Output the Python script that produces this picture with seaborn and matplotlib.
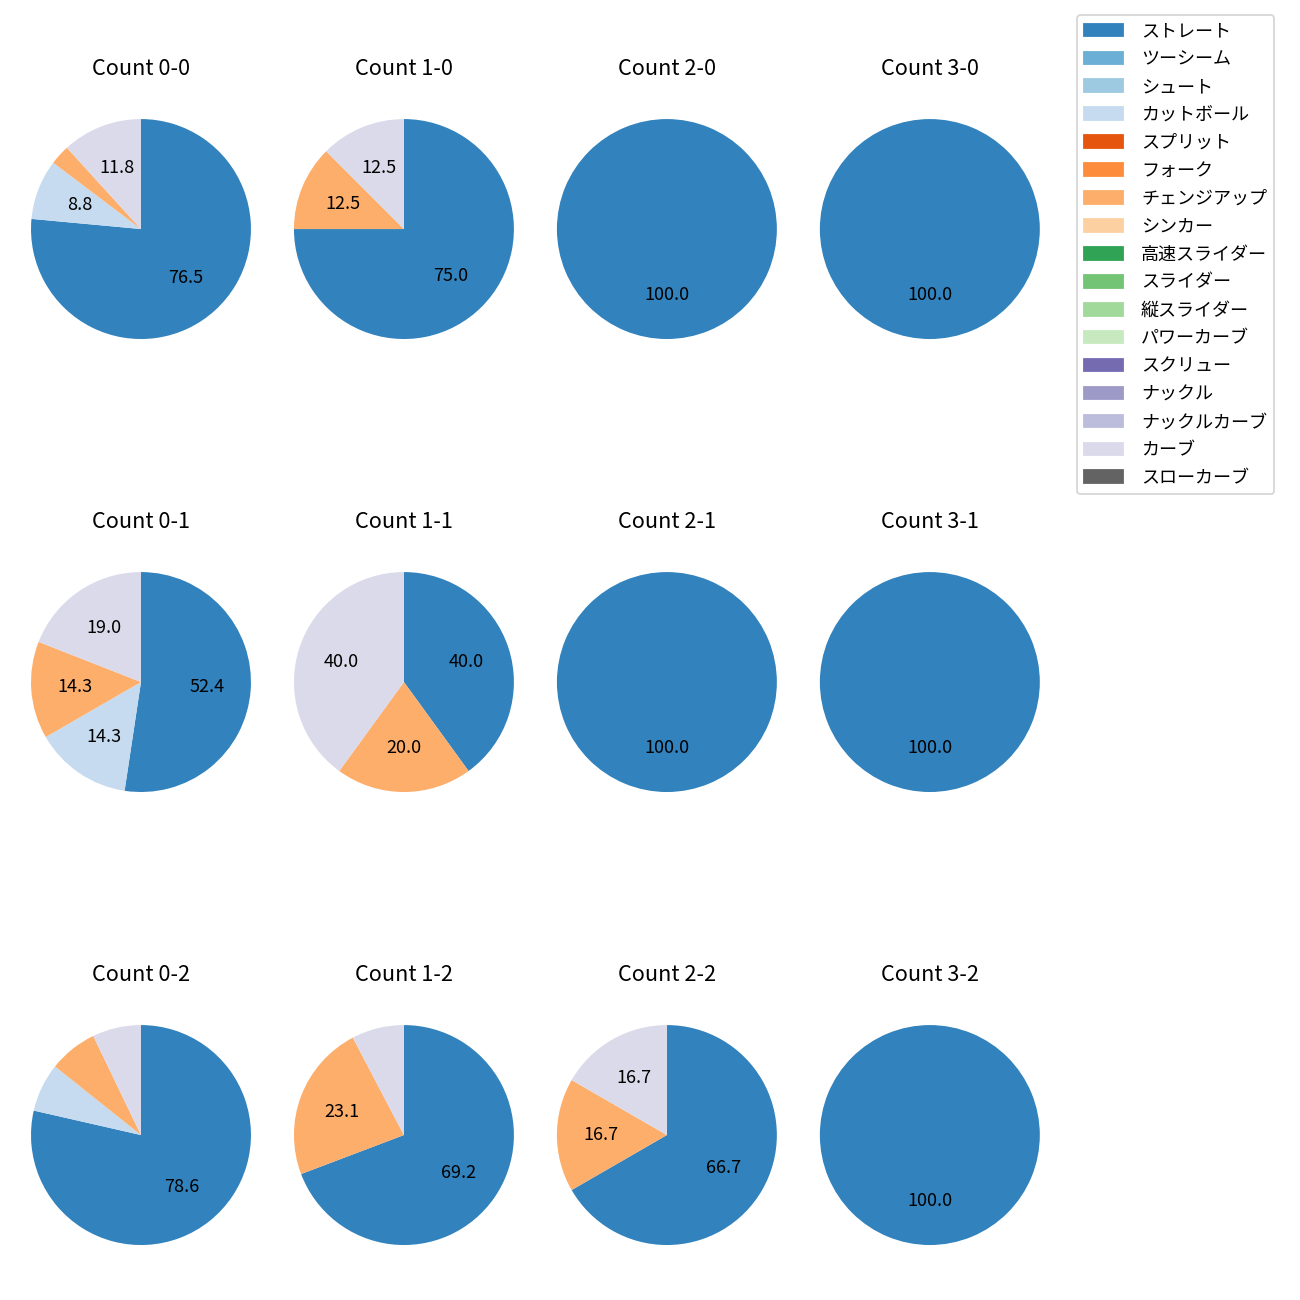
import numpy as np
import pandas as pd
import matplotlib
matplotlib.use("Agg")
import matplotlib.pyplot as plt
from matplotlib.patches import Patch
import seaborn as sns

plt.rcParams['font.family'] = ['Noto Sans CJK JP', 'DejaVu Sans']

pitch_types = ['ストレート', 'ツーシーム', 'シュート', 'カットボール', 'スプリット', 'フォーク',
               'チェンジアップ', 'シンカー', '高速スライダー', 'スライダー', '縦スライダー',
               'パワーカーブ', 'スクリュー', 'ナックル', 'ナックルカーブ', 'カーブ', 'スローカーブ']

counts = ['0-0', '1-0', '2-0', '3-0',
          '0-1', '1-1', '2-1', '3-1',
          '0-2', '1-2', '2-2', '3-2']

# pitches thrown per count (only the types that appear)
straight = [26, 6, 2, 1, 11, 2, 2, 1, 11, 9, 4, 3]
cutball  = [3, 0, 0, 0, 3, 0, 0, 0, 1, 0, 0, 0]
changeup = [1, 1, 0, 0, 3, 1, 0, 0, 1, 3, 1, 0]
curve    = [4, 1, 0, 0, 4, 2, 0, 0, 1, 1, 1, 0]

df = pd.DataFrame(0, index=counts, columns=pitch_types)
df['ストレート'] = straight
df['カットボール'] = cutball
df['チェンジアップ'] = changeup
df['カーブ'] = curve

colors = sns.color_palette('tab20c', 20)[:len(pitch_types)]
color_map = dict(zip(pitch_types, colors))

fig, axes = plt.subplots(3, 4, figsize=(10, 10))
plt.subplots_adjust(left=0.0027, right=0.821, top=0.9392, bottom=0.0115,
                    wspace=-0.0436, hspace=0.51)

for ax, cnt in zip(axes.flat, counts):
    row = df.loc[cnt]
    row = row[row > 0]
    ax.pie(row.values, colors=[color_map[p] for p in row.index],
           startangle=90, counterclock=False,
           autopct=lambda p: f'{p:.1f}' if p >= 8 else '')
    ax.set_title(f'Count {cnt}', pad=9)

handles = [Patch(color=color_map[p], label=p) for p in pitch_types]
fig.legend(handles=handles, loc='upper left', labelspacing=0.55,
           handlelength=2.15, handletextpad=1.0,
           bbox_to_anchor=(1077 / 1300, 1 - 15 / 1300), borderaxespad=0)

plt.savefig('out.png', dpi=130)
